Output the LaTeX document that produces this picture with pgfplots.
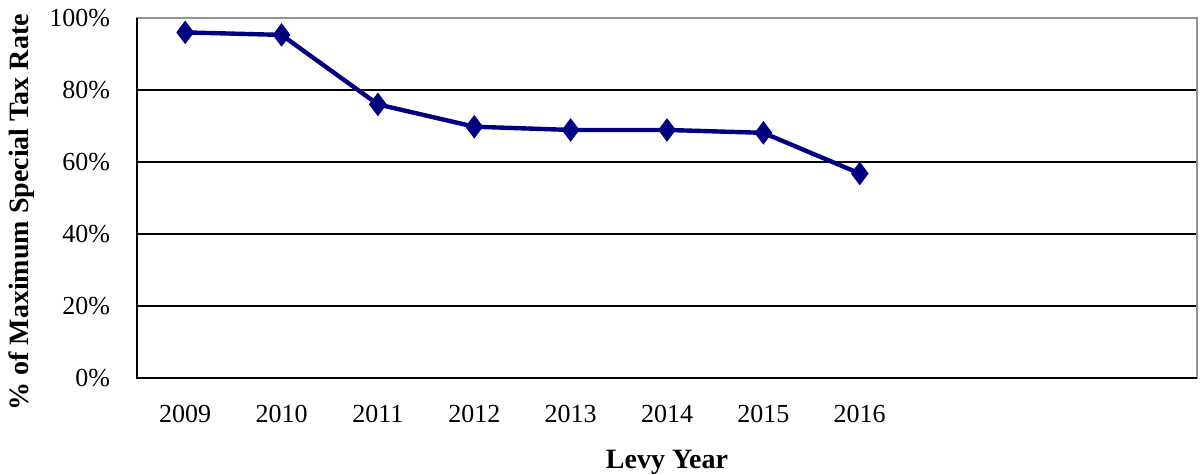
\documentclass[border=0pt]{standalone}
\usepackage{pgfplots}
\pgfplotsset{compat=1.18}
\usepackage{fontspec}
\setmainfont{Liberation Serif}
\definecolor{navyline}{RGB}{0,0,128}
\begin{document}
\fontsize{13pt}{15pt}\selectfont
\begin{tikzpicture}
\begin{axis}[
  at={(0,0)}, anchor=south west,
  scale only axis,
  width=530pt, height=180pt,
  xmin=-0.5, xmax=10.5,
  ymin=0, ymax=100,
  xtick={0,1,2,3,4,5,6,7},
  xticklabels={2009,2010,2011,2012,2013,2014,2015,2016},
  ytick={0,20,40,60,80,100},
  yticklabel={\pgfmathprintnumber{\tick}\%},
  /pgf/number format/assume math mode=true,
  major tick length=0pt,
  ymajorgrids,
  grid style={black, line width=0.7pt},
  axis line style={gray!85, line width=1.2pt},
  tick label style={font=\fontsize{13pt}{15pt}\selectfont},
  xticklabel style={yshift=-9pt},
  yticklabel style={xshift=-9pt},
  xlabel={\textbf{Levy Year}},
  ylabel={\textbf{\% of Maximum Special Tax Rate}},
  label style={font=\fontsize{14pt}{16pt}\selectfont},
  xlabel style={at={(axis description cs:0.5,0)}, anchor=center, yshift=-42pt},
  ylabel style={at={(axis description cs:-0.1085,0.46)}, anchor=center},
  clip=false,
]
\addplot[color=navyline, line width=2.2pt, mark=diamond*, mark size=5.5pt,
  mark options={fill=navyline, draw=navyline, line width=0.5pt}]
  coordinates {(0,96.0) (1,95.3) (2,76.0) (3,69.8) (4,68.9) (5,68.9) (6,68.1) (7,56.8)};
\draw[black, line width=1.2pt] (rel axis cs:0,1) -- (rel axis cs:0,0) -- (rel axis cs:1,0);
\end{axis}
\pgfresetboundingbox
\path[use as bounding box] (-68.5pt,-48.5pt) rectangle (532.5pt,189pt);
\end{tikzpicture}
\end{document}
